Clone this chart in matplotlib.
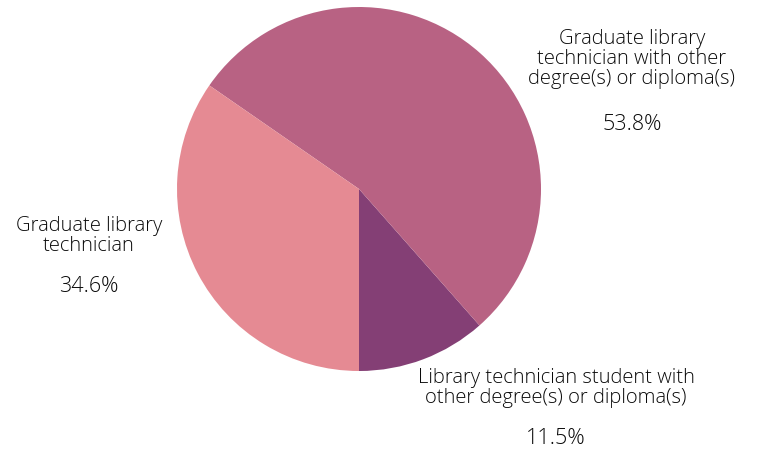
import matplotlib
matplotlib.use("Agg")
import matplotlib.pyplot as plt

# 数据
labels = ["Library technician student with\nother degree(s) or diploma(s)",
          "Graduate library\ntechnician with other\ndegree(s) or diploma(s)",
          "Graduate library\ntechnician"]
values = [11.5, 53.8, 34.6]
colors = ["#843f75", "#b86283", "#e58a93"]

plt.rcParams["font.family"] = ["Open Sans", "DejaVu Sans"]

W, H = 757, 451
fig = plt.figure(figsize=(W / 100, H / 100), dpi=100)
ax = fig.add_axes([0, 0, 1, 1])

cx, cy, r = 359, H - 189, 182
ax.pie(values, colors=colors, startangle=270, counterclock=True,
       center=(cx, cy), radius=r, frame=True)
ax.set_xlim(0, W)
ax.set_ylim(0, H)
ax.set_aspect("equal")
ax.axis("off")

# 标签位置 (像素)
label_pos = [(556, 388), (632, 59), (89, 236)]
pct_pos = [(556, 438), (632, 124), (89, 287)]
for lab, v, (lx, ly), (px, py) in zip(labels, values, label_pos, pct_pos):
    ax.text(lx, H - ly, lab, ha="center", va="center", fontsize=14.5,
            color="#0a0a0a", linespacing=0.98, fontweight="light")
    ax.text(px, H - py, f"{v}%", ha="center", va="center", fontsize=15.5,
            color="#0a0a0a", fontweight="light")

fig.savefig("out.png", dpi=100)
